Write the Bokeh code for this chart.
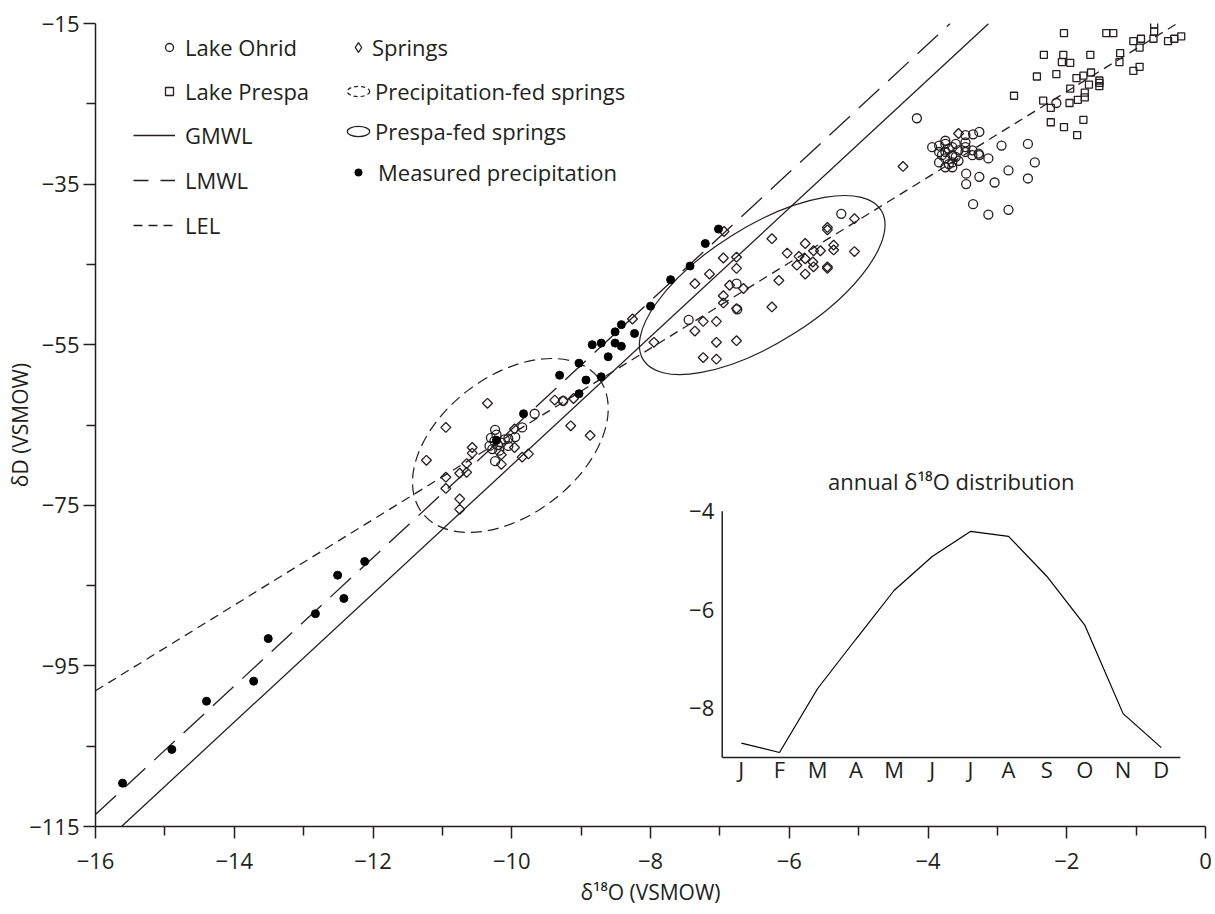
import math
from bokeh.plotting import figure
from bokeh.models import Range1d, FixedTicker, Legend, LegendItem
from bokeh.core.properties import value
from bokeh.embed import file_html
from bokeh.resources import INLINE

FONT = "Open Sans"
INK = "#231f20"

# ---------------- data ----------------
x_ticks = [-16, -14, -12, -10, -8, -6, -4, -2, 0]
x_minor = [-15, -13, -11, -9, -7, -5, -3, -1]
x_tick_labels = ["\u221216", "\u221214", "\u221212", "\u221210", "\u22128", "\u22126", "\u22124", "\u22122", "0"]
y_ticks = [-115, -95, -75, -55, -35, -15]
y_minor = [-105, -85, -65, -45, -25]
y_tick_labels = ["\u2212115", "\u221295", "\u221275", "\u221255", "\u221235", "\u221215"]

ohrid_x = [-4.16, -3.94, -3.46, -3.35, -3.26, -2.94, -2.56, -2.46, -3.13, -3.26, -2.84, -2.56, -3.45, -3.26,
           -3.04, -3.45, -3.35, -3.13, -2.84, -2.15,
           -3.84, -3.84, -3.84, -3.75, -3.75, -3.75, -3.75, -3.65, -3.65, -3.65, -3.65, -3.56, -3.56, -3.46,
           -3.46, -3.46, -3.36, -3.36, -3.27, -3.80, -3.70, -3.70, -3.60, -3.60, -3.75,
           -10.24, -10.24, -9.85, -9.95, -9.67, -9.26, -10.05, -10.30, -10.25, -10.20, -10.28, -10.22, -10.15,
           -10.32, -10.18, -10.10, -10.05,
           -5.25, -6.76, -6.75, -7.45]
ohrid_y = [-26.8, -30.4, -28.9, -28.8, -28.5, -30.2, -30.0, -32.3, -31.8, -31.4, -33.3, -34.3, -33.7, -34.1,
           -34.8, -35.0, -37.5, -38.8, -38.2, -24.9,
           -30.2, -31.0, -32.3, -30.0, -31.0, -31.8, -32.9, -30.4, -31.4, -32.3, -32.9, -30.8, -32.1, -29.8,
           -30.4, -31.0, -30.8, -31.4, -31.2, -31.4, -30.6, -32.5, -30.0, -31.6, -29.6,
           -65.6, -69.5, -65.3, -66.5, -63.6, -62.0, -66.7, -66.6, -67.0, -67.5, -68.0, -66.2, -67.2,
           -67.6, -68.2, -66.8, -67.6,
           -38.7, -47.4, -50.6, -51.9]

prespa_x = [-2.04, -1.43, -1.33, -0.74, -0.74, -1.04, -0.93, -0.75, -0.54, -0.45, -0.35, -0.95, -2.33, -2.05,
            -2.07, -1.95, -1.66, -1.23, -1.24, -2.43, -2.15, -1.86, -1.76, -1.65, -1.68, -1.53, -1.53, -1.53,
            -1.04, -0.95, -1.95, -2.76, -2.34, -2.23, -1.96, -1.84, -1.74, -1.74, -2.23, -2.04, -1.76, -1.85]
prespa_y = [-16.2, -16.2, -16.2, -15.1, -16.0, -17.2, -16.9, -16.9, -17.2, -16.9, -16.6, -18.0, -18.9, -18.9,
            -19.8, -19.9, -18.9, -18.7, -19.8, -21.6, -21.3, -21.8, -21.5, -21.1, -22.6, -22.1, -22.4, -22.8,
            -20.9, -20.4, -23.1, -24.0, -24.6, -25.5, -24.9, -24.5, -23.6, -24.2, -27.3, -27.9, -27.0, -28.9]

springs_x = [-10.35, -10.95, -11.23, -10.57, -10.57, -10.65, -10.65, -10.75, -10.95, -10.95, -10.75, -10.75,
             -9.96, -9.76, -9.85, -10.15, -10.15, -9.15, -8.87, -9.38, -9.26, -9.11, -9.96, -7.95,
             -6.94, -6.25, -5.45, -5.45, -5.06, -6.95, -6.76, -6.76, -7.15, -7.36, -6.03, -5.77, -5.65,
             -5.55, -5.86, -5.77, -5.89, -5.66, -5.77, -5.65, -5.36, -5.36, -5.06, -5.45, -5.45, -6.15,
             -6.86, -6.66, -6.95, -6.95, -6.76, -6.25, -7.24, -7.05, -7.36, -7.05, -6.76, -7.24, -7.05,
             -8.26, -3.56, -4.36]
springs_y = [-62.3, -65.3, -69.4, -67.8, -68.5, -69.8, -70.9, -71.0, -71.5, -72.9, -74.2, -75.5,
             -67.8, -68.6, -69.0, -68.7, -69.9, -65.1, -66.3, -61.9, -62.0, -61.7, -65.5, -54.7,
             -40.9, -41.8, -40.4, -40.7, -39.3, -44.2, -44.1, -45.5, -46.2, -47.4, -43.6, -42.4, -43.3,
             -43.3, -44.0, -44.3, -45.1, -44.7, -46.2, -45.3, -42.6, -43.2, -43.4, -45.3, -45.5, -47.0,
             -47.6, -48.0, -48.9, -49.8, -50.5, -50.3, -52.1, -52.1, -53.3, -54.7, -54.5, -56.6, -56.8,
             -51.8, -28.7, -32.8]

precip_x = [-15.61, -14.90, -14.40, -13.72, -13.51, -12.83, -12.51, -12.42, -12.12, -7.02, -7.21, -7.43,
            -7.71, -8.00, -8.42, -8.51, -8.23, -8.71, -8.84, -8.51, -8.42, -8.61, -9.03, -9.31, -8.93,
            -8.71, -9.03, -9.83, -10.22]
precip_y = [-109.6, -105.4, -99.4, -96.9, -91.6, -88.5, -83.7, -86.6, -82.0, -40.6, -42.4, -45.2,
            -46.9, -50.2, -52.5, -53.4, -53.6, -54.8, -55.0, -54.8, -55.2, -56.5, -57.3, -58.8, -59.4,
            -59.0, -61.1, -63.6, -66.9]

# reference lines (delta D vs delta 18O)
gmwl_x = [-15.625, -3.125]
gmwl_y = [-115.0, -15.0]
lmwl_x = [-16.0, -3.68]
lmwl_y = [-113.5, -15.0]
lel_x = [-16.0, -0.41]
lel_y = [-98.1, -15.0]

# groupings (centres in data units)
precip_fed_center = (-10.02, -67.55)
prespa_fed_center = (-6.39, -47.57)
legend_helper_x = [-40.0, -39.0]   # outside the plotted ranges; only feeds legend icons
legend_helper_y = [-300.0, -300.0]

# inset: annual d18O distribution
months = ["J", "F", "M", "A", "M", "J", "J", "A", "S", "O", "N", "D"]
month_idx = list(range(12))
monthly_d18o = [-8.71, -8.90, -7.60, -6.60, -5.61, -4.92, -4.41, -4.51, -5.32, -6.32, -8.11, -8.80]
inset_y_ticks = [-4, -6, -8]
inset_y_labels = ["\u22124", "\u22126", "\u22128"]

# ---------------- figure ----------------
p = figure(width=1215, height=914, x_range=Range1d(-16, 0), y_range=Range1d(-115, -15),
           output_backend="svg", toolbar_location=None,
           min_border_left=95, min_border_right=10, min_border_top=23, min_border_bottom=88)
p.grid.visible = False
p.outline_line_color = None
p.background_fill_color = "white"
p.border_fill_color = "white"

for ax in (p.xaxis[0], p.yaxis[0]):
    ax.axis_line_color = INK
    ax.axis_line_width = 1.5
    ax.major_tick_line_color = INK
    ax.major_tick_line_width = 1.5
    ax.minor_tick_line_color = INK
    ax.minor_tick_line_width = 1.5
    ax.major_tick_in = 0
    ax.major_tick_out = 12
    ax.minor_tick_in = 0
    ax.minor_tick_out = 9
    ax.major_label_text_font = FONT
    ax.major_label_text_font_size = "22px"
    ax.major_label_text_color = INK
    ax.axis_label_text_font = FONT
    ax.axis_label_text_font_size = "21px"
    ax.axis_label_text_font_style = "normal"
    ax.axis_label_text_color = INK

p.xaxis.ticker = FixedTicker(ticks=x_ticks, minor_ticks=x_minor)
p.xaxis.major_label_overrides = {t: s for t, s in zip(x_ticks, x_tick_labels)}
p.yaxis.ticker = FixedTicker(ticks=y_ticks, minor_ticks=y_minor)
p.yaxis.major_label_overrides = {t: s for t, s in zip(y_ticks, y_tick_labels)}
p.xaxis.axis_label = "\u03b4\u00b9\u2078O (VSMOW)"
p.yaxis.axis_label = "\u03b4D (VSMOW)"
p.xaxis.major_label_standoff = 14
p.xaxis.axis_label_standoff = 6
p.yaxis.major_label_standoff = 4
p.yaxis.axis_label_standoff = -8

# lines
r_gmwl = p.line(gmwl_x, gmwl_y, line_color=INK, line_width=1.3)
r_lmwl = p.line(lmwl_x, lmwl_y, line_color=INK, line_width=1.3, line_dash="28 12")
r_lel = p.line(lel_x, lel_y, line_color=INK, line_width=1.3, line_dash="9 6")
r_lmwl_leg = p.line(legend_helper_x, legend_helper_y, line_color=INK, line_width=1.3, line_dash="15 12")

# ellipses
p.ellipse(x=[precip_fed_center[0]], y=[precip_fed_center[1]], width=222, height=139,
          angle=math.radians(37.2), width_units="screen", height_units="screen",
          fill_color=None, line_color=INK, line_width=1.2, line_dash="11 6")
p.ellipse(x=[prespa_fed_center[0]], y=[prespa_fed_center[1]], width=281, height=116,
          angle=math.radians(32.2), width_units="screen", height_units="screen",
          fill_color=None, line_color=INK, line_width=1.2)
# legend-only icons (horizontal), placed outside the plotted ranges
r_ell_dash = p.ellipse(x=legend_helper_x[:1], y=legend_helper_y[:1], width=22, height=10,
                       width_units="screen", height_units="screen",
                       fill_color=None, line_color=INK, line_width=1.2, line_dash="4 3")
r_ell_solid = p.ellipse(x=legend_helper_x[:1], y=legend_helper_y[:1], width=22, height=10,
                        width_units="screen", height_units="screen",
                        fill_color=None, line_color=INK, line_width=1.2)

# points
r_ohrid = p.scatter(ohrid_x, ohrid_y, marker="circle", size=9, fill_color=None, line_color=INK, line_width=1.3)
r_prespa = p.scatter(prespa_x, prespa_y, marker="square", size=7, fill_color=None, line_color=INK, line_width=1.3)
r_springs = p.scatter(springs_x, springs_y, marker="square", angle=math.pi / 4, size=7,
                      fill_color=None, line_color=INK, line_width=1.3)
r_springs_leg = p.scatter(legend_helper_x[:1], legend_helper_y[:1], marker="diamond", size=11,
                          fill_color=None, line_color=INK, line_width=1.3)
r_precip = p.scatter(precip_x, precip_y, marker="circle", size=8, fill_color="black", line_color="black")

# inset drawn with its own ranges
p.extra_x_ranges = {"ix": Range1d(-16.915, 12.158)}
p.extra_y_ranges = {"iy": Range1d(-10.402, 5.903)}
p.line([-0.5, -0.5], [-9, -4], x_range_name="ix", y_range_name="iy", line_color=INK, line_width=1.5)
p.line([-0.5, 11.5], [-9, -9], x_range_name="ix", y_range_name="iy", line_color=INK, line_width=1.5)
p.line(month_idx, monthly_d18o, x_range_name="ix", y_range_name="iy", line_color="black", line_width=1.2)
p.text(x=[-0.5] * len(inset_y_ticks), y=inset_y_ticks, text=inset_y_labels, x_range_name="ix", y_range_name="iy",
       x_offset=-8, text_align="right", text_baseline="middle", text_font=value(FONT),
       text_font_size="22px", text_color=INK)
p.text(x=month_idx, y=[-9] * 12, text=months, x_range_name="ix", y_range_name="iy",
       y_offset=12, text_align="center", text_baseline="alphabetic", text_font=value(FONT),
       text_font_size="22px", text_color=INK)
p.text(x=[5.5], y=[-4], text=["annual \u03b4\u00b9\u2078O distribution"], x_range_name="ix", y_range_name="iy",
       y_offset=-30, text_align="center", text_baseline="alphabetic", text_font=value(FONT),
       text_font_size="22px", text_color=INK)

# legends
def mk_legend(items, loc, gw, spacing, standoff):
    lg = Legend(items=items, location=loc, orientation="vertical", glyph_width=gw, glyph_height=30,
                label_height=30, spacing=spacing, label_standoff=standoff, padding=0, margin=0,
                border_line_color=None, background_fill_alpha=0, label_text_font=FONT,
                label_text_font_size="22px", label_text_color=INK, label_text_baseline="middle")
    p.add_layout(lg)

mk_legend([LegendItem(label="Lake Ohrid", renderers=[r_ohrid]),
           LegendItem(label="Lake Prespa", renderers=[r_prespa])], (64, 720), 20, 14, 6)
mk_legend([LegendItem(label="GMWL", renderers=[r_gmwl]),
           LegendItem(label="LMWL", renderers=[r_lmwl_leg]),
           LegendItem(label="LEL", renderers=[r_lel])], (38, 586), 42, 15, 10)
mk_legend([LegendItem(label="Springs", renderers=[r_springs_leg])], (251, 764), 24, 10, 2)
mk_legend([LegendItem(label="Precipitation-fed springs", renderers=[r_ell_dash]),
           LegendItem(label="Prespa-fed springs", renderers=[r_ell_solid])], (249, 680), 28, 10, 3)
mk_legend([LegendItem(label="Measured precipitation", renderers=[r_precip])], (254, 639), 18, 10, 11)

open("out.html", "w").write(file_html(p, INLINE))
